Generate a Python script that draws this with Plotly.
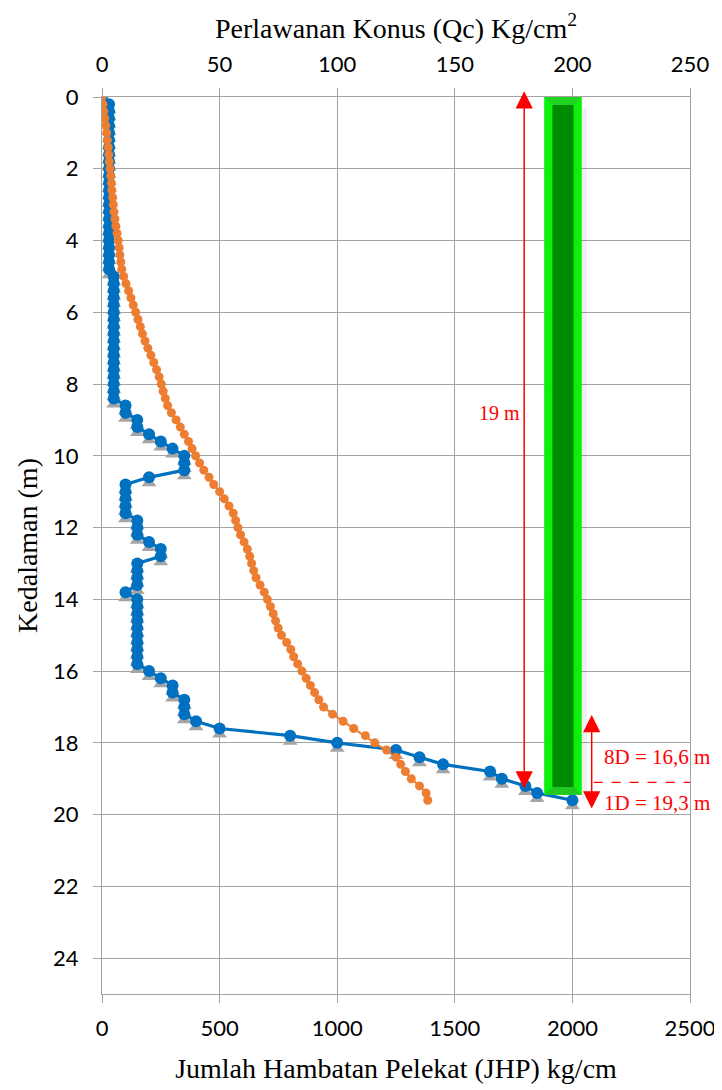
import plotly.graph_objects as go

# sounding data, read every 0.2 m
depth = [0.0, 0.2, 0.4, 0.6, 0.8, 1.0, 1.2, 1.4, 1.6, 1.8,
         2.0, 2.2, 2.4, 2.6, 2.8, 3.0, 3.2, 3.4, 3.6, 3.8,
         4.0, 4.2, 4.4, 4.6, 4.8, 5.0, 5.2, 5.4, 5.6, 5.8,
         6.0, 6.2, 6.4, 6.6, 6.8, 7.0, 7.2, 7.4, 7.6, 7.8,
         8.0, 8.2, 8.4, 8.6, 8.8, 9.0, 9.2, 9.4, 9.6, 9.8,
         10.0, 10.2, 10.4, 10.6, 10.8, 11.0, 11.2, 11.4, 11.6, 11.8,
         12.0, 12.2, 12.4, 12.6, 12.8, 13.0, 13.2, 13.4, 13.6, 13.8,
         14.0, 14.2, 14.4, 14.6, 14.8, 15.0, 15.2, 15.4, 15.6, 15.8,
         16.0, 16.2, 16.4, 16.6, 16.8, 17.0, 17.2, 17.4, 17.6, 17.8,
         18.0, 18.2, 18.4, 18.6, 18.8, 19.0, 19.2, 19.4, 19.6]

jhp = [0, 30, 30, 30, 30, 30, 30, 30, 30, 30,
       30, 30, 30, 30, 30, 30, 30, 30, 30, 30,
       30, 30, 30, 30, 30, 50, 50, 50, 50, 50,
       50, 50, 50, 50, 50, 50, 50, 50, 50, 50,
       50, 50, 50, 100, 100, 150, 150, 200, 250, 300,
       350, 350, 350, 200, 100, 100, 100, 100, 100, 150,
       150, 150, 200, 250, 250, 150, 150, 150, 150, 100,
       150, 150, 150, 150, 150, 150, 150, 150, 150, 150,
       200, 250, 300, 300, 350, 350, 350, 400, 500, 800,
       1000, 1250, 1350, 1450, 1650, 1700, 1800, 1850, 2000]

qc = [0.0, 0.4, 0.8, 1.2, 1.6, 2.0, 2.3, 2.6, 2.9, 3.1,
      3.4, 3.7, 4.0, 4.2, 4.5, 4.8, 5.1, 5.5, 5.9, 6.4,
      6.9, 7.3, 7.6, 8.0, 8.4, 9.2, 10.2, 11.3, 12.3, 13.3,
      14.3, 15.3, 16.3, 17.2, 18.3, 19.5, 20.8, 22.0, 23.2, 24.3,
      25.2, 26.0, 26.9, 27.9, 29.5, 31.5, 33.3, 35.0, 36.8, 38.3,
      39.8, 41.5, 43.3, 45.5, 47.5, 50.0, 52.0, 54.0, 55.8, 56.8,
      57.8, 58.9, 60.4, 61.8, 62.8, 63.6, 64.5, 65.5, 67.2, 69.0,
      70.3, 71.6, 72.8, 73.8, 74.9, 76.3, 78.5, 80.3, 81.5, 83.2,
      85.0, 86.8, 88.6, 90.4, 92.2, 94.2, 98.0, 102.5, 107.0, 112.0,
      116.0, 121.0, 125.0, 127.0, 129.0, 131.5, 135.0, 137.8, 138.5]

jhp_ticks = [0, 500, 1000, 1500, 2000, 2500]
qc_ticks = [0, 50, 100, 150, 200, 250]
depth_ticks = [0, 2, 4, 6, 8, 10, 12, 14, 16, 18, 20, 22, 24]

SERIF = "Liberation Serif"
SANS = "Lato"
GRID = "#A3A3A3"
RED = "#FF0000"
BLUE = "#0070C0"
ORANGE = "#ED7D31"

# pile drawn over the plot (JHP units / metres)
pile_top, pile_tip = 0.0, 19.45
pile_x0, pile_x1 = 1880, 2040
core_x0, core_x1, core_top, core_tip = 1915, 2005, 0.22, 19.23

shadow_shift = 0.16  # grey triangles sit a few px under the blue dots

fig = go.Figure()

fig.add_trace(go.Scatter(
    x=jhp, y=depth, xaxis="x", yaxis="y2", mode="markers",
    marker=dict(symbol="triangle-up", size=13, color="#A5A5A5"),
    hoverinfo="skip", showlegend=False))

fig.add_trace(go.Scatter(
    x=jhp, y=depth, xaxis="x", yaxis="y3", mode="lines+markers",
    line=dict(color=BLUE, width=3.2),
    marker=dict(size=12, color=BLUE), name="JHP"))

fig.add_trace(go.Scatter(
    x=qc, y=depth, xaxis="x2", yaxis="y3", mode="lines+markers",
    line=dict(color=ORANGE, width=2),
    marker=dict(size=9, color=ORANGE), name="Qc"))

tick_style = dict(ticks="outside", ticklen=8, tickcolor=GRID, tickwidth=1.3,
                  tickfont=dict(family=SANS, size=22, color="black"))

shapes = [
    # soft shadow on the right of the pile
    dict(type="rect", xref="x", yref="y", x0=pile_x1, x1=pile_x1 + 22,
         y0=pile_top + 0.3, y1=pile_tip + 0.12,
         fillcolor="rgba(0,0,0,0.06)", line=dict(width=0), layer="above"),
    dict(type="rect", xref="x", yref="y", x0=pile_x0, x1=pile_x1,
         y0=pile_top, y1=pile_tip, fillcolor="#0DF00D",
         line=dict(width=0), layer="above"),
    # top and bottom bevels
    dict(type="path", xref="x", yref="y", layer="above",
         path=f"M{pile_x0},{pile_top} L{pile_x1},{pile_top} L{core_x1},{core_top} L{core_x0},{core_top} Z",
         fillcolor="#22D422", line=dict(width=0)),
    dict(type="path", xref="x", yref="y", layer="above",
         path=f"M{pile_x0},{pile_tip} L{pile_x1},{pile_tip} L{core_x1},{core_tip} L{core_x0},{core_tip} Z",
         fillcolor="#22C822", line=dict(width=0)),
    dict(type="rect", xref="x", yref="y", x0=core_x0, x1=core_x1,
         y0=core_top, y1=core_tip, fillcolor="#008C00",
         line=dict(width=0), layer="above"),
    # 8D / 1D boundary
    dict(type="line", xref="x", yref="y", x0=2090, x1=2510, y0=19.1, y1=19.1,
         line=dict(color=RED, width=1.3, dash="dash"), layer="above"),
]

arrow = dict(xref="x", yref="y", axref="x", ayref="y", text="", showarrow=True,
             arrowhead=2, startarrowhead=2, arrowside="end+start",
             arrowsize=2.3, startarrowsize=2.3, arrowwidth=1.5, arrowcolor=RED)

annotations = [
    dict(arrow, x=1795, y=19.27, ax=1795, ay=-0.2),
    dict(arrow, x=2082, y=19.83, ax=2082, ay=17.18),
    dict(xref="x", yref="y", x=1688, y=8.8, text="19 m", showarrow=False,
         font=dict(family=SERIF, size=20, color=RED)),
    dict(xref="x", yref="y", x=2359, y=18.4, text="8D = 16,6 m", showarrow=False,
         font=dict(family=SERIF, size=21, color=RED)),
    dict(xref="x", yref="y", x=2359, y=19.68, text="1D = 19,3 m", showarrow=False,
         font=dict(family=SERIF, size=21, color=RED)),
]

# the page body adds an 8 px offset, so the figure is 8 px smaller than the window
fig.update_layout(
    width=714, height=1082,
    margin=dict(l=94, r=32, t=89, b=96),
    plot_bgcolor="white", paper_bgcolor="white",
    showlegend=False,
    xaxis=dict(range=[0, 2500], tickvals=jhp_ticks, showgrid=True,
               gridcolor=GRID, gridwidth=1.3, showline=True, mirror=True,
               linecolor=GRID, linewidth=1.3, zeroline=False, automargin=False,
               ticklabelstandoff=6,
               title=dict(text="Jumlah Hambatan Pelekat (JHP) kg/cm",
                          font=dict(family=SERIF, size=28, color="black"), standoff=18),
               **tick_style),
    xaxis2=dict(range=[0, 250], tickvals=qc_ticks, overlaying="x", side="top",
                anchor="y", showgrid=False, zeroline=False, automargin=False,
                ticklabelstandoff=7,
                title=dict(text="Perlawanan Konus (Qc) Kg/cm<sup>2</sup>",
                           font=dict(family=SERIF, size=28, color="black"), standoff=3),
                **tick_style),
    yaxis=dict(range=[25, 0], tickvals=depth_ticks, showgrid=True,
               gridcolor=GRID, gridwidth=1.3, showline=True, mirror=True,
               linecolor=GRID, linewidth=1.3, zeroline=False, automargin=False,
               ticklabelstandoff=10,
               title=dict(text="Kedalaman (m)",
                          font=dict(family=SERIF, size=28, color="black"), standoff=7),
               **tick_style),
    yaxis2=dict(range=[25 - shadow_shift, -shadow_shift], overlaying="y", visible=False),
    yaxis3=dict(range=[25, 0], overlaying="y", visible=False),
    shapes=shapes,
    annotations=annotations,
)

fig.write_html("out.html")
